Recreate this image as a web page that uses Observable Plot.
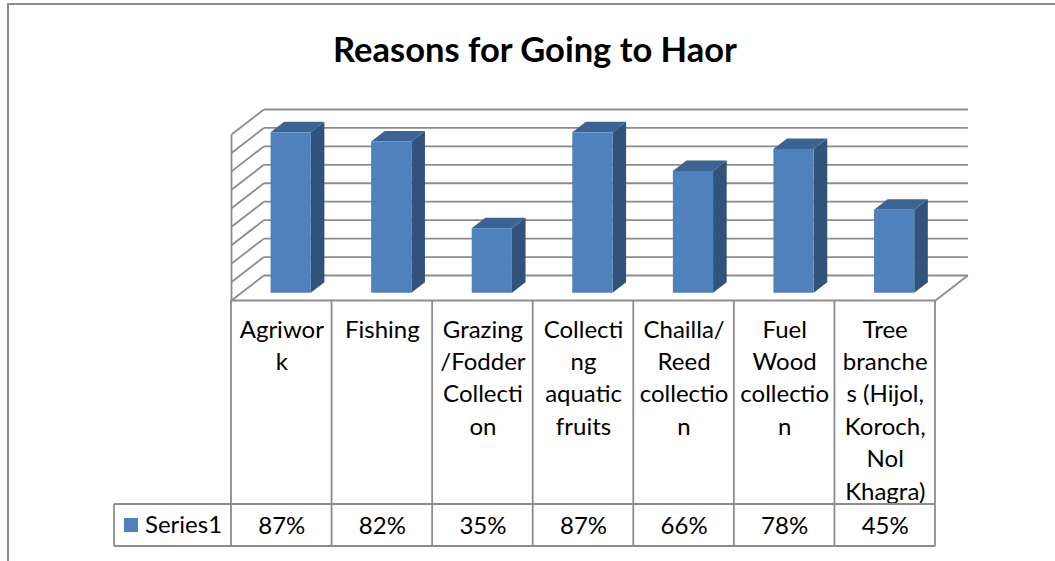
<!DOCTYPE html>
<html>
<head>
<meta charset="utf-8">
<script src="https://cdn.jsdelivr.net/npm/d3@7"></script>
<script src="https://cdn.jsdelivr.net/npm/@observablehq/plot@0.6"></script>
<style>
  body { margin: 0; background: #fff; }
  #wrap { position: relative; width: 1055px; height: 561px; overflow: hidden; font-family: Lato, "Open Sans", sans-serif; }
  #border { position: absolute; left: 7px; top: 3px; width: 1200px; height: 800px; border: 2px solid #8c8c8c; box-sizing: border-box; }
  #title { position: absolute; left: 0; width: 1070px; top: 29px; text-align: center; font-weight: bold; font-size: 34.5px; line-height: 40px; color: #000; }
  #chart { position: absolute; left: 0; top: 0; }
</style>
</head>
<body>
<div id="wrap">
  <div id="border"></div>
  <div id="title">Reasons for Going to Haor</div>
  <div id="chart"></div>
</div>
<script>
// Survey responses: share of respondents giving each reason
const categories = [
  "Agriwork", "Fishing", "Grazing/Fodder Collection", "Collecting aquatic fruits",
  "Chailla/Reed collection", "Fuel Wood collection", "Tree branches (Hijol, Koroch, Nol Khagra)"
];
// Category labels as wrapped in the data table cells
const categoryLines = [
  ["Agriwor", "k"],
  ["Fishing"],
  ["Grazing", "/Fodder", "Collecti", "on"],
  ["Collecti", "ng", "aquatic", "fruits"],
  ["Chailla/", "Reed", "collectio", "n"],
  ["Fuel", "Wood", "collectio", "n"],
  ["Tree", "branche", "s (Hijol,", "Koroch,", "Nol", "Khagra)"]
];
const seriesName = "Series1";
const values = [0.87, 0.82, 0.35, 0.87, 0.66, 0.78, 0.45];
const valueTicks = [0, 0.1, 0.2, 0.3, 0.4, 0.5, 0.6, 0.7, 0.8, 0.9];

// Oblique 3-D projection: a full step into the floor depth shifts a point
// right by DEPTH_X category units and up by DEPTH_Y value units.
const DEPTH_X = 0.322;
const DEPTH_Y = 0.1356;
const BAR_HALF = 0.2;      // half the bar width, in category units
const BAR_Z0 = 0.29;       // depth of the bar front face
const BAR_DEPTH = 0.42;    // bar thickness, as a share of the floor depth

const FRONT = "#4f81bd", SIDE = "#31527b", TOP_FILL = "#3b6494";
const GRID = "#8c8c8c";
const FONT_SIZE = 24;

const n = categories.length;
const vmax = valueTicks[valueTicks.length - 1];
const bars = values.map((v, i) => ({i, v}));

// Front faces
const frontFaces = bars.map(d => ({
  i: d.i,
  x1: d.i + 0.5 - BAR_HALF + BAR_Z0 * DEPTH_X,
  x2: d.i + 0.5 + BAR_HALF + BAR_Z0 * DEPTH_X,
  y1: BAR_Z0 * DEPTH_Y,
  y2: d.v + BAR_Z0 * DEPTH_Y
}));
// Right-hand side faces
const sideFaces = frontFaces.flatMap(f => [
  {i: f.i, x: f.x2, y1: f.y1, y2: f.y2},
  {i: f.i, x: f.x2 + BAR_DEPTH * DEPTH_X, y1: f.y1 + BAR_DEPTH * DEPTH_Y, y2: f.y2 + BAR_DEPTH * DEPTH_Y}
]);
// Top faces
const topFaces = frontFaces.flatMap(f => {
  const ddx = BAR_DEPTH * DEPTH_X, ddy = BAR_DEPTH * DEPTH_Y;
  return [
    {i: f.i, x: f.x1, y1: f.y2, y2: f.y2},
    {i: f.i, x: f.x1 + ddx, y1: f.y2, y2: f.y2 + ddy},
    {i: f.i, x: f.x2, y1: f.y2, y2: f.y2 + ddy},
    {i: f.i, x: f.x2 + ddx, y1: f.y2 + ddy, y2: f.y2 + ddy}
  ];
});

// Walls and floor
const backWall = valueTicks.map(v => ({x1: DEPTH_X, y1: v + DEPTH_Y, x2: n + DEPTH_X, y2: v + DEPTH_Y}));
const sideWall = valueTicks.map(v => ({x1: 0, y1: v, x2: DEPTH_X, y2: v + DEPTH_Y}));
const edges = [
  {x1: 0, y1: 0, x2: 0, y2: vmax},
  {x1: 0, y1: 0, x2: n, y2: 0},
  {x1: n, y1: 0, x2: n + DEPTH_X, y2: DEPTH_Y}
];

const lineOpts = {x1: "x1", y1: "y1", x2: "x2", y2: "y2", stroke: GRID, strokeWidth: 1.8};

const chart = Plot.plot({
  width: 1055,
  height: 561,
  marginLeft: 231,
  marginRight: 120,
  marginTop: 134,
  marginBottom: 261,
  x: {domain: [0, n], axis: null},
  y: {domain: [0, vmax], axis: null},
  style: {fontFamily: "Lato, 'Open Sans', sans-serif", fontSize: FONT_SIZE + "px", background: "transparent", overflow: "visible"},
  marks: [
    Plot.link(backWall, lineOpts),
    Plot.link(sideWall, lineOpts),
    Plot.link(edges, lineOpts),
    Plot.area(sideFaces, {x1: "x", y1: "y1", y2: "y2", z: "i", fill: SIDE}),
    Plot.area(topFaces, {x1: "x", y1: "y1", y2: "y2", z: "i", fill: TOP_FILL}),
    Plot.rect(frontFaces, {x1: "x1", x2: "x2", y1: "y1", y2: "y2", fill: FRONT}),
    // Data table: category names
    Plot.text(bars, {
      x: d => d.i + 0.5, y: 0,
      text: d => categoryLines[d.i].join("\n"),
      lineAnchor: "top", dy: 14, lineHeight: 1.35,
      fontSize: FONT_SIZE, fill: "#000"
    }),
    // Data table: values
    Plot.text(bars, {
      x: d => d.i + 0.5, y: 0,
      text: d => d3.format(".0%")(d.v),
      dy: 226, fontSize: FONT_SIZE, fill: "#000"
    })
  ]
});

// Data table grid, placed with the chart's own scales
const X = chart.scale("x"), Y = chart.scale("y");
const svg = d3.select(chart);
const yTop = Y.apply(0);
const rowTop = yTop + 204, rowBottom = yTop + 246;
const legendLeft = 114;
const g = svg.append("g").attr("stroke", GRID).attr("stroke-width", 1.8).attr("fill", "none");
d3.range(n + 1).forEach(k => {
  g.append("line").attr("x1", X.apply(k)).attr("x2", X.apply(k)).attr("y1", yTop).attr("y2", rowBottom);
});
[rowTop, rowBottom].forEach(yy => {
  g.append("line").attr("x1", legendLeft).attr("x2", X.apply(n)).attr("y1", yy).attr("y2", yy);
});
g.append("line").attr("x1", legendLeft).attr("x2", legendLeft).attr("y1", rowTop).attr("y2", rowBottom);

// Legend key in the series row
const rowMid = (rowTop + rowBottom) / 2;
svg.append("rect").attr("x", legendLeft + 10).attr("y", rowMid - 7)
  .attr("width", 14).attr("height", 14).attr("fill", FRONT);
svg.append("text").attr("x", legendLeft + 31).attr("y", rowMid)
  .attr("dy", "0.32em").attr("text-anchor", "start")
  .attr("font-size", FONT_SIZE).attr("fill", "#000").text(seriesName);

document.getElementById("chart").appendChild(chart);
</script>
</body>
</html>
